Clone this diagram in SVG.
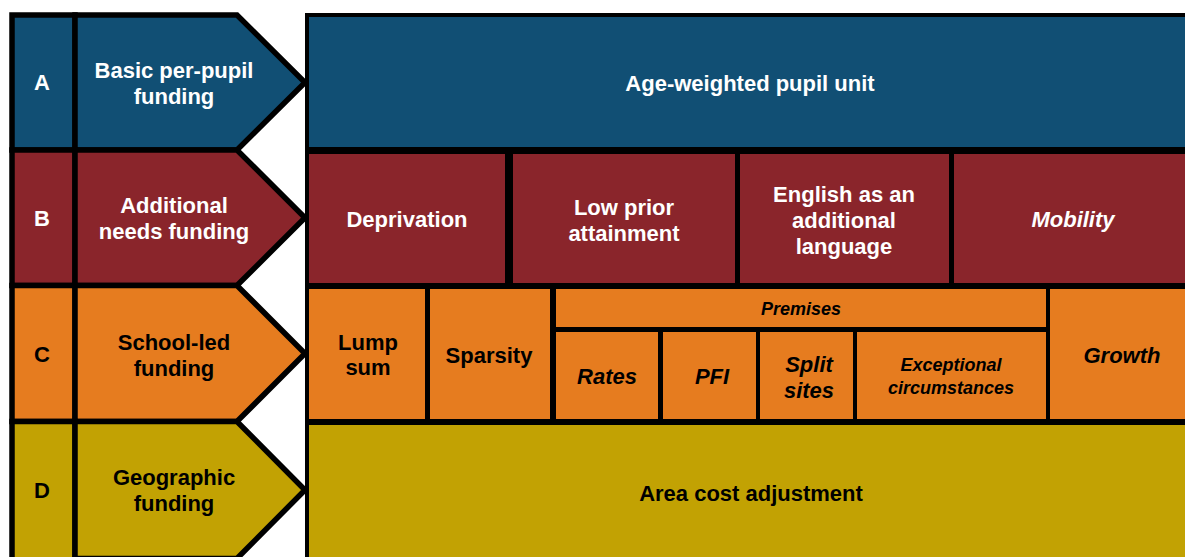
<svg xmlns="http://www.w3.org/2000/svg" width="1185" height="557" viewBox="0 0 1185 557">
<style>
.t{font-family:"Liberation Sans",Arial,sans-serif;font-weight:bold;font-size:22px;text-anchor:middle}
.w{fill:#ffffff}
.k{fill:#000000}
.i{font-style:italic}
.s{font-size:18px}
.a{fill:#114F74}
.b{fill:#8A252B}
.c{fill:#E67C1F}
.d{fill:#C2A203}
.ln{stroke:#000;stroke-width:5.5;stroke-linejoin:miter}
</style>
<rect width="1185" height="557" fill="#ffffff"/>
<rect x="305" y="13" width="900" height="560" fill="#000"/>
<g id="rowA">
<rect class="a ln" x="12" y="15" width="63" height="135"/>
<polygon class="a ln" points="75,15 237,15 305,82.5 237,150 75,150"/>
<rect class="a" x="309" y="17" width="890" height="130"/>
<text class="t w" x="42" y="90">A</text>
<text class="t w" x="174" y="78">Basic per-pupil</text>
<text class="t w" x="174" y="104">funding</text>
<text class="t w" x="750" y="91">Age-weighted pupil unit</text>
</g>
<g id="rowB">
<rect class="b ln" x="12" y="150" width="63" height="135.5"/>
<polygon class="b ln" points="75,150 237,150 305,217.75 237,285.5 75,285.5"/>
<rect class="b" x="309" y="154" width="196" height="129"/>
<rect class="b" x="513" y="154" width="222" height="129"/>
<rect class="b" x="740" y="154" width="209" height="129"/>
<rect class="b" x="954" y="154" width="245" height="129"/>
<text class="t w" x="42" y="226">B</text>
<text class="t w" x="174" y="213">Additional</text>
<text class="t w" x="174" y="239">needs funding</text>
<text class="t w" x="407" y="227">Deprivation</text>
<text class="t w" x="624" y="215">Low prior</text>
<text class="t w" x="624" y="241">attainment</text>
<text class="t w" x="844" y="202">English as an</text>
<text class="t w" x="844" y="228">additional</text>
<text class="t w" x="844" y="254">language</text>
<text class="t w i" x="1073" y="227">Mobility</text>
</g>
<g id="rowC">
<rect class="c ln" x="12" y="285.5" width="63" height="136"/>
<polygon class="c ln" points="75,285.5 237,285.5 305,353.5 237,421.5 75,421.5"/>
<rect class="c" x="309" y="289" width="116" height="130"/>
<rect class="c" x="430" y="289" width="120" height="130"/>
<rect class="c" x="556" y="289" width="490" height="38"/>
<rect class="c" x="556" y="332" width="102" height="87"/>
<rect class="c" x="663" y="332" width="93" height="87"/>
<rect class="c" x="760" y="332" width="93" height="87"/>
<rect class="c" x="857" y="332" width="189" height="87"/>
<rect class="c" x="1050" y="289" width="149" height="130"/>
<text class="t k" x="42" y="362">C</text>
<text class="t k" x="174" y="350">School-led</text>
<text class="t k" x="174" y="376">funding</text>
<text class="t k" x="368" y="350">Lump</text>
<text class="t k" x="368" y="375">sum</text>
<text class="t k" x="489" y="363">Sparsity</text>
<text class="t k i s" x="801" y="315">Premises</text>
<text class="t k i" x="607" y="384">Rates</text>
<text class="t k i" x="712" y="384">PFI</text>
<text class="t k i" x="809" y="372">Split</text>
<text class="t k i" x="809" y="398">sites</text>
<text class="t k i s" x="951" y="371">Exceptional</text>
<text class="t k i s" x="951" y="394">circumstances</text>
<text class="t k i" x="1122" y="363">Growth</text>
</g>
<g id="rowD">
<rect class="d ln" x="12" y="421.5" width="63" height="140"/>
<polygon class="d ln" points="75,421.5 237,421.5 305,490 237,558.5 75,558.5"/>
<rect class="d" x="309" y="425" width="890" height="140"/>
<text class="t k" x="42" y="498">D</text>
<text class="t k" x="174" y="485">Geographic</text>
<text class="t k" x="174" y="511">funding</text>
<text class="t k" x="751" y="501">Area cost adjustment</text>
</g>
<g id="connectors"></g>
</svg>
